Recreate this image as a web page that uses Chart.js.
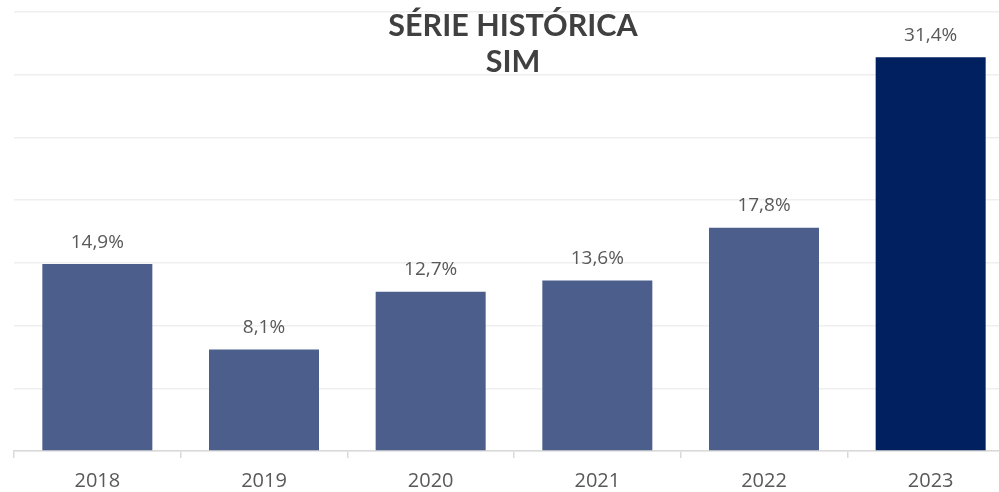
<!DOCTYPE html>
<html>
<head>
<meta charset="utf-8">
<script src="https://cdn.jsdelivr.net/npm/chart.js@4"></script>
<style>
html,body{margin:0;padding:0;background:#fff;overflow:hidden;}
#wrap{position:relative;width:1014px;height:492px;}
</style>
</head>
<body>
<div id="wrap"><canvas id="c"></canvas></div>
<script>
const categories = ['2018','2019','2020','2021','2022','2023'];
const values = [14.9, 8.1, 12.7, 13.6, 17.8, 31.4];
const valueLabels = ['14,9%','8,1%','12,7%','13,6%','17,8%','31,4%'];
const titleLines = ['SÉRIE HISTÓRICA','SIM'];
const barColors = ['#4b5e8c','#4b5e8c','#4b5e8c','#4b5e8c','#4b5e8c','#002060'];

const labelPlugin = {
  id: 'labels',
  afterDatasetsDraw(chart) {
    const ctx = chart.ctx;
    const meta = chart.getDatasetMeta(0);
    ctx.save();
    ctx.font = '19px "Open Sans", sans-serif';
    ctx.fillStyle = '#595959';
    ctx.textAlign = 'center';
    ctx.textBaseline = 'middle';
    meta.data.forEach((bar, i) => {
      ctx.fillText(valueLabels[i], bar.x, bar.y - 22);
    });
    ctx.restore();
  },
  afterDraw(chart) {
    const ctx = chart.ctx;
    ctx.save();
    ctx.font = 'bold 30.5px Lato, sans-serif';
    ctx.fillStyle = '#404040';
    ctx.textAlign = 'center';
    ctx.textBaseline = 'middle';
    ctx.fillText(titleLines[0], 513, 26);
    ctx.fillText(titleLines[1], 513, 62);
    ctx.restore();
  }
};

new Chart(document.getElementById('c'), {
  type: 'bar',
  data: {
    labels: categories,
    datasets: [{
      data: values,
      backgroundColor: barColors,
      borderWidth: 0,
      barPercentage: 1,
      categoryPercentage: 0.66
    }]
  },
  options: {
    responsive: true,
    maintainAspectRatio: false,
    animation: false,
    layout: { padding: { left: 14, top: 12, right: 0, bottom: 0 } },
    plugins: { legend: { display: false }, tooltip: { enabled: false }, title: { display: false } },
    scales: {
      x: {
        offset: true,
        grid: { offset: true, drawOnChartArea: false, drawTicks: true, tickLength: 7, color: '#d9d9d9', lineWidth: 1.5 },
        border: { display: true, color: '#d9d9d9', width: 1.5 },
        ticks: { color: '#595959', font: { family: '"Open Sans", sans-serif', size: 20 }, padding: 11 },
        afterFit(s) { s.height = 41; }
      },
      y: {
        min: 0, max: 35,
        ticks: { display: false, stepSize: 5 },
        grid: { color: '#efefef', lineWidth: 1.5, drawTicks: false },
        border: { display: false },
        afterFit(s) { s.width = 0; }
      }
    }
  },
  plugins: [labelPlugin]
});
</script>
</body>
</html>
